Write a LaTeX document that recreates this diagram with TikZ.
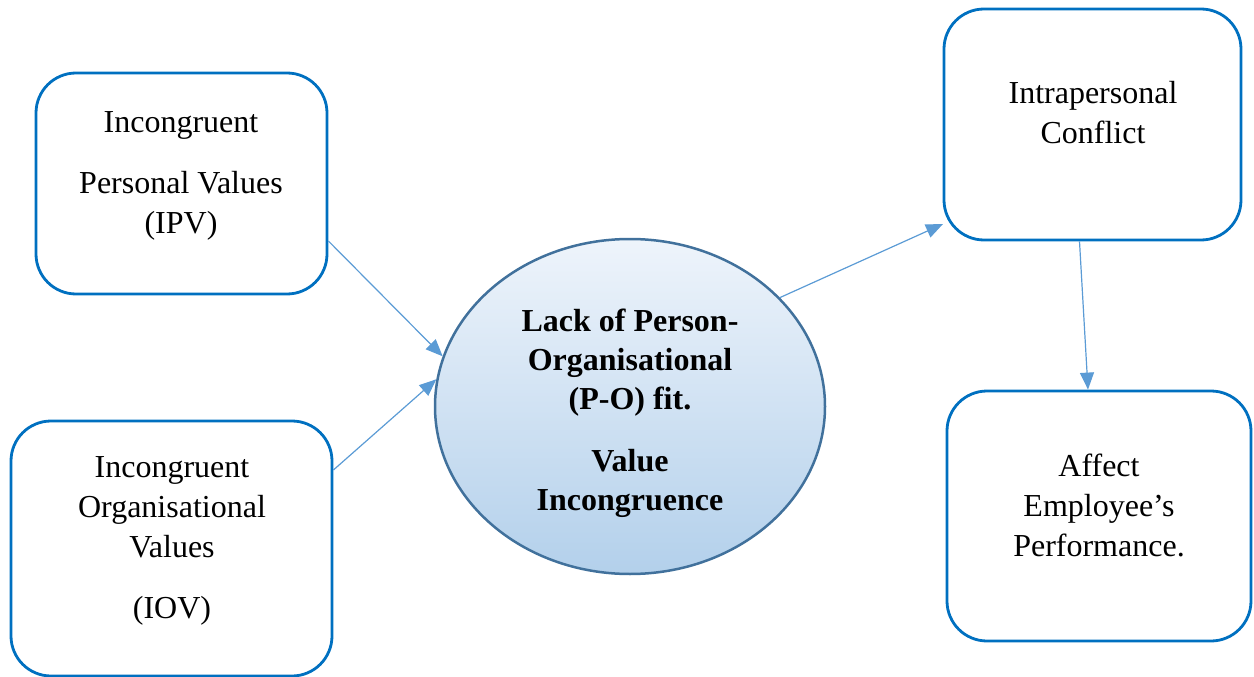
\documentclass[tikz,border=0pt]{standalone}
\usepackage{fontspec}
\setmainfont{Liberation Serif}
\usetikzlibrary{arrows.meta,shapes.geometric}
\definecolor{boxblue}{HTML}{0070C0}
\definecolor{arrblue}{HTML}{5B9BD5}
\definecolor{ellline}{HTML}{41719C}
\definecolor{elltop}{HTML}{EEF4FB}
\definecolor{ellbot}{HTML}{B3D0EB}
\tikzset{
  rbox/.style={draw=boxblue, line width=2.8pt, rounded corners=40pt, inner sep=0pt, fill=white},
  lbl/.style={align=center, inner sep=0pt, font=\fontsize{32}{40}\selectfont},
  conn/.style={draw=arrblue, line width=1.2pt, -{Triangle[length=17pt,width=14pt]}},
}
\begin{document}
\begin{tikzpicture}[x=1pt,y=1pt]
\useasboundingbox (0,0) rectangle (1254,-677);
% boxes
\node[rbox, minimum width=291pt, minimum height=221pt] (ipv) at (181.5,-183.5) {};
\node[rbox, minimum width=321pt, minimum height=255pt] (iov) at (171.5,-548.5) {};
\node[rbox, minimum width=297pt, minimum height=231pt] (intra) at (1092.5,-124.5) {};
\node[rbox, minimum width=304pt, minimum height=250pt] (affect) at (1099,-516) {};
% ellipse
\node[ellipse, draw=ellline, line width=2.5pt, top color=elltop, bottom color=ellbot,
      minimum width=390pt, minimum height=335pt, inner sep=0pt] (po) at (630,-406.5) {};
% texts
\node[lbl] (ipvt) at (181,-176) {Incongruent\\[21pt]Personal Values\\(IPV)};
\node[lbl] (iovt) at (172,-541) {Incongruent\\Organisational\\Values\\[21pt](IOV)};
\node[lbl] (intrat) at (1093,-113) {Intrapersonal\\Conflict};
\node[lbl] (affectt) at (1099,-505) {Affect\\Employee’s\\Performance.};
\node[lbl, font=\fontsize{32}{39}\selectfont\bfseries] (pot) at (630,-413.5)
  {Lack of Person-\\Organisational\\(P-O) fit.\\[23pt]Value\\Incongruence};
% connectors
\coordinate (a1s) at ([yshift=-57.5pt]ipv.east);
\coordinate (a2s) at ([yshift=78.5pt]iov.east);
\coordinate (a3e) at (943,-224);
\draw[conn] (a1s) -- (po.165);
\draw[conn] (a2s) -- (po.172);
\draw[conn] (po.36) -- (a3e);
\draw[conn] ([xshift=-13pt]intra.south) -- ([xshift=-11pt]affect.north);
\end{tikzpicture}
\end{document}
